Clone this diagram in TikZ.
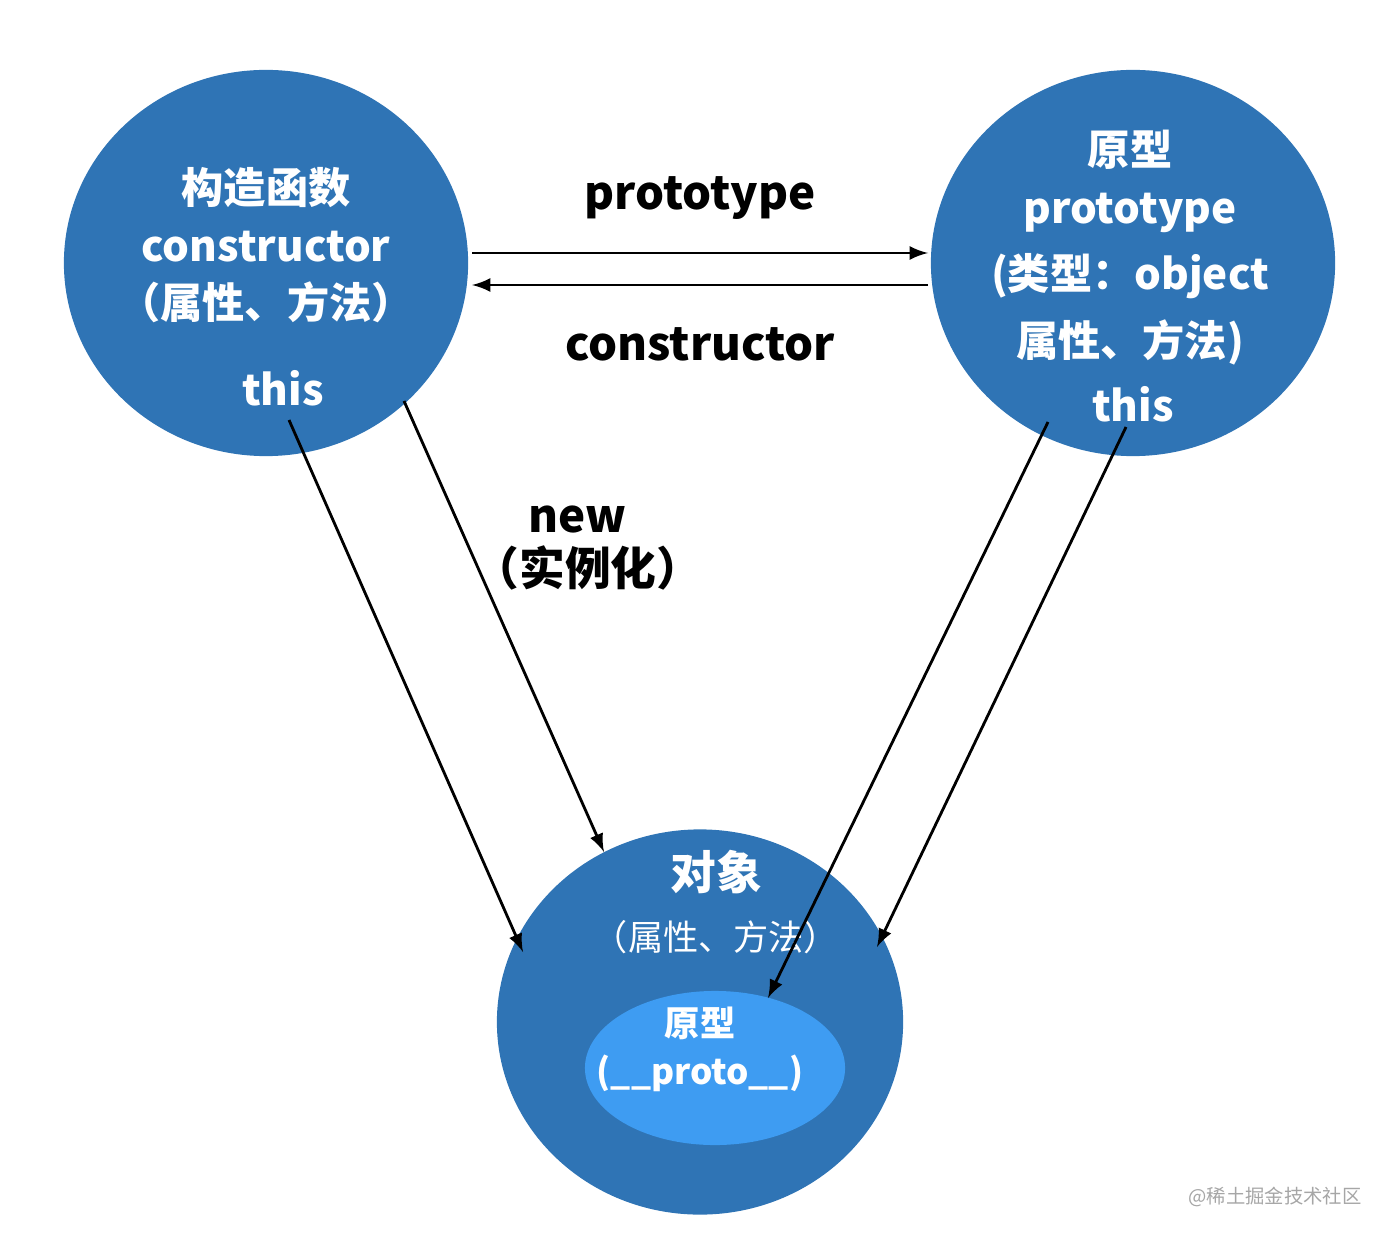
\documentclass[tikz,border=0pt]{standalone}
\usepackage{fontspec}
\setmainfont{Noto Sans CJK SC}
\usetikzlibrary{arrows,positioning,shapes.geometric}
\definecolor{ballblue}{HTML}{2F74B5}
\definecolor{protoblue}{HTML}{3E9CF2}
\tikzset{
	ball/.style={ellipse,fill=ballblue,minimum width=4.04cm,minimum height=3.86cm,inner sep=0pt},
	lbl/.style={font=\fontsize{12}{14}\selectfont\bfseries,text=white,align=center},
	blk/.style={font=\fontsize{13}{15}\selectfont\bfseries,align=center},
	link/.style={thick,-latex}
}
\begin{document}
\begin{tikzpicture}[x=0.01cm,y=-0.01cm]
	\useasboundingbox (0,0) rectangle (1386,1240);
	\node[ball] (ctor) at (266,263) {};
	\node[ball] (proto) at (1133,263) {};
	\node[ball,minimum width=4.06cm,minimum height=3.85cm] (obj) at (700,1022) {};
	\node[ellipse,fill=protoblue,minimum width=2.6cm,minimum height=1.54cm,inner sep=0pt] (inner) at (715,1068) {};
	
	% texts in the circles
	\node[lbl] at (266,188) {构造函数};
	\node[lbl] at (266,247) {constructor};
	\node[lbl] at (266,302) {（属性、方法）};
	\node[lbl] (cthis) at (283,388) {this};
	\node[lbl] at (1130,150) {原型};
	\node[lbl] at (1130,213) {prototype};
	\node[lbl] at (1130,276) {(类型：object};
	\node[lbl] at (1130,342) {属性、方法)};
	\node[lbl] (pthis) at (1133,404) {this};
	\node[lbl,font=\fontsize{13}{15}\selectfont\bfseries] at (716,872) {对象};
	\node[lbl,font=\fontsize{10}{12}\selectfont] at (716,937) {（属性、方法）};
	\node[lbl,font=\fontsize{10}{12}\selectfont\bfseries] at (700,1023) {原型};
	\node[lbl,font=\fontsize{10}{12}\selectfont\bfseries] at (700,1073) {(\_\_proto\_\_)};
	
	% arrow labels
	\node[blk] (ptext) at (700,198) {prototype};
	\node[blk] (ctext) at (700,344) {constructor};
	\node[blk,align=left] (newtext) at (588,548) {\hspace{1.2em}new\\（实例化）};
	\node[text=gray!70,font=\fontsize{5.5}{7}\selectfont] at (1275,1197) {@稀土掘金技术社区};
	
	\coordinate (a1) at (472,253); \coordinate (b1) at (928,253);
	\coordinate (a2) at (928,285); \coordinate (b2) at (472,285);
	\coordinate (a3) at (289,420); \coordinate (b3) at (523,952);
	\coordinate (a4) at (404,401); \coordinate (b4) at (604,852);
	\coordinate (a5) at (1048,422); \coordinate (b5) at (768,998);
	\coordinate (a6) at (1126,427); \coordinate (b6) at (877,947);
	\draw[link] (a1) -- (b1);
	\draw[link] (a2) -- (b2);
	\draw[link] (a3) -- (b3);
	\draw[link] (a4) -- (b4);
	\draw[link] (a5) -- (b5);
	\draw[link] (a6) -- (b6);
\end{tikzpicture}
\end{document}
